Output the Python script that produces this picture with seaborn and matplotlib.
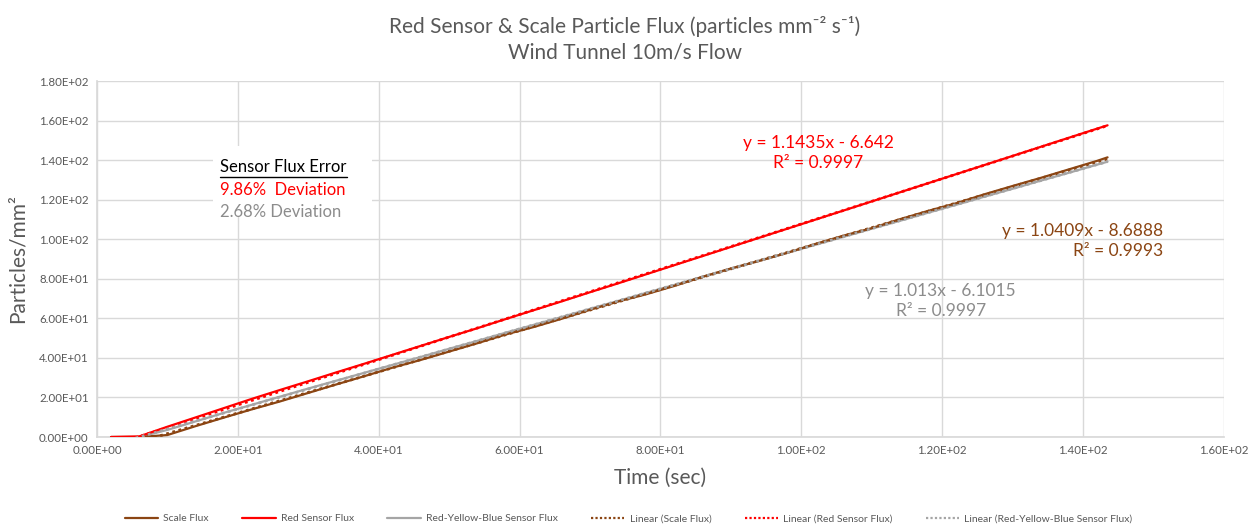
import numpy as np
import pandas as pd
import matplotlib
matplotlib.use("Agg")
import matplotlib.pyplot as plt
from matplotlib.lines import Line2D
import seaborn as sns

# Sample times (s) and cumulative particle counts per mm^2
time_s = [2, 6, 10, 14, 18, 22, 26, 30, 34, 38, 42, 46, 50, 54, 58, 62, 66, 70,
          74, 78, 82, 86, 90, 94, 98, 102, 106, 110, 114, 118, 122, 126, 130,
          134, 138, 142, 143.5]
scale_flux = [0.0, 0.0, 1.0, 5.5, 9.8, 14.0, 18.0, 22.3, 26.6, 30.8, 35.1, 39.0,
              43.2, 47.4, 51.8, 55.6, 59.8, 64.3, 68.5, 72.2, 76.4, 81.0, 85.2,
              89.0, 93.1, 97.6, 101.8, 105.6, 110.1, 114.3, 118.2, 122.7, 126.9,
              131.0, 135.3, 139.6, 141.4]
red_flux = [0.0, 0.3, 5.2, 9.9, 14.6, 19.3, 23.8, 28.2, 32.7, 37.1, 41.6, 46.1,
            50.6, 55.0, 59.6, 64.1, 68.6, 73.2, 77.7, 82.3, 86.9, 91.5, 96.1,
            100.7, 105.3, 109.9, 114.5, 119.1, 123.7, 128.3, 132.9, 137.5, 142.1,
            146.7, 151.3, 155.9, 157.6]
ryb_flux = [0.0, 0.0, 3.6, 7.9, 12.2, 16.3, 20.4, 24.5, 28.5, 32.5, 36.5, 40.5,
            44.6, 48.6, 52.7, 56.7, 60.7, 64.8, 68.8, 72.9, 76.9, 81.0, 85.0,
            89.1, 93.1, 97.2, 101.2, 105.3, 109.3, 113.4, 117.4, 121.5, 125.5,
            129.6, 133.6, 137.7, 139.2]

# Linear fit coefficients (slope, intercept) and R^2
fit_scale = (1.0409, -8.6888, 0.9993)
fit_red = (1.1435, -6.642, 0.9997)
fit_ryb = (1.013, -6.1015, 0.9997)

series_names = ["Scale Flux", "Red Sensor Flux", "Red-Yellow-Blue Sensor Flux"]
colors = ["#8B4513", "#FF0000", "#A5A5A5"]

x_ticks = [0, 20, 40, 60, 80, 100, 120, 140, 160]
y_ticks = [0, 20, 40, 60, 80, 100, 120, 140, 160, 180]

sns.set_theme(style="white")
plt.rcParams["font.family"] = ["Lato", "DejaVu Sans"]

df = pd.DataFrame({
    "time": time_s * 3,
    "flux": scale_flux + red_flux + ryb_flux,
    "series": [series_names[0]] * len(time_s) + [series_names[1]] * len(time_s)
              + [series_names[2]] * len(time_s),
})

fig = plt.figure(figsize=(12.5, 5.25), dpi=100)
ax = fig.add_axes([0.0776, 0.1676, 0.9014, 0.6781])

grid_c = "#D9D9D9"
for xv in x_ticks:
    ax.axvline(xv, color=grid_c, lw=1, zorder=0)
for yv in y_ticks:
    ax.axhline(yv, color=grid_c, lw=1, zorder=0)

# measured series (RYB first so scale and red sit on top)
order = [2, 0, 1]
for i in order:
    sub = df[df["series"] == series_names[i]]
    sns.lineplot(data=sub, x="time", y="flux", ax=ax, color=colors[i],
                 lw=1.6, estimator=None, legend=False, zorder=3)

# linear trendlines over the data range
x_fit = np.array([time_s[0], time_s[-1]])
for (m, b, _), c in zip([fit_scale, fit_red, fit_ryb], colors):
    ax.plot(x_fit, m * x_fit + b, color=c, lw=2, ls=(0, (1, 1.3)), zorder=4)

ax.set_xlim(0, 160)
ax.set_ylim(0, 180)
ax.set_xticks(x_ticks)
ax.set_yticks(y_ticks)
ax.set_xticklabels([f"{v:.2E}" for v in x_ticks])
ax.set_yticklabels([f"{v:.2E}" for v in y_ticks])
ax.tick_params(axis="both", length=0, labelsize=8.3, labelcolor="#595959", pad=6)
for s in ax.spines.values():
    s.set_visible(False)
ax.spines["bottom"].set_visible(True)
ax.spines["bottom"].set_color(grid_c)
ax.spines["left"].set_visible(True)
ax.spines["left"].set_color(grid_c)
ax.set_xlabel("Time (sec)", fontsize=15, color="#595959", labelpad=8)
ax.set_ylabel("Particles/mm²", fontsize=15, color="#595959", labelpad=8)

fig.text(0.5, 0.925,
         "Red Sensor & Scale Particle Flux (particles mm⁻² s⁻¹)\nWind Tunnel 10m/s Flow",
         ha="center", va="center", fontsize=15, color="#595959", linespacing=1.3)

# trendline equation labels
def eq_text(m, b):
    return f"y = {m:g}x - {abs(b):g}"

ax.text(102.4, 143.6, f"{eq_text(*fit_red[:2])}\nR² = {fit_red[2]:.4f}",
        color="#FF0000", fontsize=12.5, ha="center", va="center", linespacing=1.3)
ax.text(151.4, 99, f"{eq_text(*fit_scale[:2])}\nR² = {fit_scale[2]:.4f}",
        color="#8B4513", fontsize=12.5, ha="right", va="center", linespacing=1.3,
        multialignment="right")
ax.text(119.8, 68.8, f"{eq_text(*fit_ryb[:2])}\nR² = {fit_ryb[2]:.4f}",
        color="#8C8C8C", fontsize=12.5, ha="center", va="center", linespacing=1.3)

# sensor deviation summary box
ax.add_patch(plt.Rectangle((16.5, 111), 22.5, 36, facecolor="white",
                           edgecolor="none", zorder=2))
t_head = ax.text(17.5, 136.5, "Sensor Flux Error", color="#000000", fontsize=12,
                 ha="left", va="center", zorder=5)
ax.text(17.5, 125, "9.86%  Deviation", color="#FF0000", fontsize=12,
        ha="left", va="center", zorder=5)
ax.text(17.5, 114, "2.68% Deviation", color="#8C8C8C", fontsize=12,
        ha="left", va="center", zorder=5)

# legend
handles = [
    Line2D([], [], color=colors[0], lw=1.6),
    Line2D([], [], color=colors[1], lw=1.6),
    Line2D([], [], color=colors[2], lw=1.6),
    Line2D([], [], color=colors[0], lw=1.6, ls=(0, (1, 1))),
    Line2D([], [], color=colors[1], lw=1.6, ls=(0, (1, 1))),
    Line2D([], [], color=colors[2], lw=1.6, ls=(0, (1, 1))),
]
labels = series_names + [f"Linear ({n})" for n in series_names]
leg = fig.legend(handles, labels, loc="center", bbox_to_anchor=(0.503, 0.012),
                 ncol=6, frameon=False, fontsize=7.5, handlelength=3.2,
                 columnspacing=3.2, handletextpad=0.5)
for t in leg.get_texts():
    t.set_color("#595959")

# underline the box heading
fig.canvas.draw()
bb = t_head.get_window_extent(renderer=fig.canvas.get_renderer())
W, H = fig.get_size_inches() * fig.dpi
y_ul = (bb.y0 - 1.5) / H
fig.add_artist(Line2D([bb.x0 / W, bb.x1 / W], [y_ul, y_ul], color="black", lw=1))

fig.savefig("out.png", dpi=100, facecolor="white")
